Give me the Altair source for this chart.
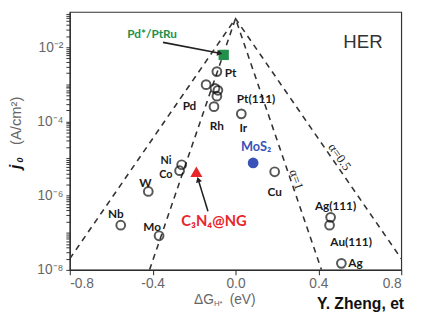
import altair as alt
import pandas as pd

# ---------------- data ----------------
metal_names = ["Pt", "m1", "m2", "m3", "m4", "Rh", "Ir", "Ni", "Co", "W", "Mo", "Nb",
               "Cu", "Ag(111)", "Au(111)", "Ag"]
metal_dG = [-0.090, -0.142, -0.099, -0.085, -0.090, -0.104, 0.028, -0.260, -0.270,
            -0.421, -0.369, -0.554, 0.189, 0.459, 0.454, 0.511]
metal_j0 = [2.2e-3, 9.8e-4, 7.8e-4, 6.9e-4, 4.8e-4, 2.5e-4, 1.6e-4, 6.8e-6, 4.7e-6,
            1.3e-6, 8.3e-8, 1.6e-7, 4.4e-6, 2.6e-7, 1.6e-7, 1.5e-8]

mos2_dG, mos2_j0 = [0.085], [7.6e-6]
ptru_dG, ptru_j0 = [-0.057], [6.2e-3]
c3n4_dG, c3n4_j0 = [-0.189], [4.4e-6]

outer_dG = [-0.8, 0.0, 0.8]
outer_j0 = [2.0e-8, 5.9e-2, 2.0e-8]
inner_dG = [-0.415, 0.0, 0.415]
inner_j0 = [1.0e-8, 5.9e-2, 1.0e-8]

# labels: text, anchor point, pixel offset dx, dy
label_text = ["Pt", "Pd", "Rh", "Pt(111)", "Ir", "MoS\u2082", "Ni", "Co", "W", "Mo", "Nb",
              "Cu", "Ag(111)", "Au(111)", "Ag", "Pd*/PtRu", "C\u2083N\u2084@NG"]
label_anchor = ["Pt", "Rh", "Rh", "Ir", "Ir", "MoS2", "Ni", "Co", "W", "Mo", "Nb",
                "Cu", "Ag(111)", "Au(111)", "Ag", "PdPtRu", "C3N4"]
label_dx = [8, -25, 3, 15, 2, 3, -16, -14, -3, -7, -5, 0, 5, 22, 7, -73, 18]
label_dy = [1, -1, 20, -15, 14, -16, -4, 4, -9, -9, -11, 21, -11, 17, 0, -21, 50]

arrow_from_dG = [-0.350, -0.133]
arrow_from_j0 = [1.35e-2, 3.8e-7]
arrow_to_dG = [-0.076, -0.180]
arrow_to_j0 = [6.9e-3, 2.7e-6]

x_ticks = [-0.8, -0.4, 0.0, 0.4, 0.8]
y_ticks = [m * 10.0 ** k for k in range(-8, -1) for m in range(1, 10)]

# ---------------- chart ----------------
W, H = 338, 263
xs = alt.Scale(domain=[-0.8, 0.8], nice=False, zero=False)
ys = alt.Scale(type="log", domain=[1e-8, 0.0891], nice=False)

anchors = {n: (g, j) for n, g, j in zip(metal_names, metal_dG, metal_j0)}
anchors["MoS2"] = (mos2_dG[0], mos2_j0[0])
anchors["PdPtRu"] = (ptru_dG[0], ptru_j0[0])
anchors["C3N4"] = (c3n4_dG[0], c3n4_j0[0])

X = alt.X("dG:Q", scale=xs,
          axis=alt.Axis(values=x_ticks, title=None, grid=False,
                        labelExpr="replace(format(datum.value, '.1f'), '\u2212', '-')",
                        labelFont="Liberation Sans", labelFontSize=14, labelColor="#666",
                        tickSize=5, tickColor="#222", domainColor="#222",
                        labelPadding=2))
Y = alt.Y("j0:Q", scale=ys,
          axis=alt.Axis(values=y_ticks, title=None, grid=False,
                        labelExpr=("(abs(log(datum.value)/LN10+2)<0.01)?'10\u207b\u00b2':"
                                   "(abs(log(datum.value)/LN10+4)<0.01)?'10\u207b\u2074':"
                                   "(abs(log(datum.value)/LN10+6)<0.01)?'10\u207b\u2076':"
                                   "(abs(log(datum.value)/LN10+8)<0.01)?'10\u207b\u2078':''"),
                        labelOverlap=False, labelFont="Liberation Sans", labelFontSize=14,
                        labelColor="#666", tickSize=4, tickColor="#333",
                        domainColor="#222", labelPadding=3))

lines_df = pd.DataFrame({
    "dG": outer_dG + inner_dG,
    "j0": outer_j0 + inner_j0,
    "curve": ["outer"] * len(outer_dG) + ["inner"] * len(inner_dG),
    "o": list(range(len(outer_dG))) + list(range(len(inner_dG))),
})
lines = alt.Chart(lines_df).mark_line(
    strokeDash=[6, 5], color="#333", strokeWidth=1.6, clip=True
).encode(x=X, y=Y, detail="curve:N", order="o:Q")

metals = alt.Chart(pd.DataFrame({"dG": metal_dG, "j0": metal_j0, "n": metal_names})).mark_point(
    shape="circle", filled=False, color="#111", size=80, strokeWidth=2
).encode(x=X, y=Y)

mos2 = alt.Chart(pd.DataFrame({"dG": mos2_dG, "j0": mos2_j0})).mark_point(
    shape="circle", filled=True, color="#3a52b8", size=120, opacity=1
).encode(x=X, y=Y)
ptru = alt.Chart(pd.DataFrame({"dG": ptru_dG, "j0": ptru_j0})).mark_point(
    shape="square", filled=True, color="#21904a", size=110, opacity=1
).encode(x=X, y=Y)
c3n4 = alt.Chart(pd.DataFrame({"dG": c3n4_dG, "j0": c3n4_j0})).mark_point(
    shape="triangle-up", filled=True, color="#e8262a", size=150, opacity=1
).encode(x=X, y=Y)

arr_df = pd.DataFrame({"dG": arrow_from_dG, "j0": arrow_from_j0,
                       "dG2": arrow_to_dG, "j02": arrow_to_j0})
arrows = alt.Chart(arr_df).mark_rule(color="#222", strokeWidth=1.6).encode(
    x=X, y=Y, x2="dG2:Q", y2="j02:Q")
heads = alt.layer(
    alt.Chart(pd.DataFrame({"dG": [arrow_to_dG[0]], "j0": [arrow_to_j0[0]]})).mark_point(
        shape="triangle-right", filled=True, color="#222", size=40, angle=11, opacity=1
    ).encode(x=X, y=Y),
    alt.Chart(pd.DataFrame({"dG": [arrow_to_dG[1]], "j0": [arrow_to_j0[1]]})).mark_point(
        shape="triangle-up", filled=True, color="#222", size=40, angle=343, opacity=1
    ).encode(x=X, y=Y),
)

label_layers = []
for t, a, dx, dy in zip(label_text, label_anchor, label_dx, label_dy):
    g, j = anchors[a]
    colour, size, font = "#1a1a1a", 12, "Lato"
    if t.startswith("MoS"):
        colour, size = "#3a52b8", 13
    elif t.startswith("Pd*"):
        colour = "#21904a"
    elif t.startswith("C\u2083"):
        colour, size = "#e8262a", 15
    elif t in ("Ni", "Co"):
        size = 11
    align = "left" if t in ("Pt", "Ag") else "center"
    label_layers.append(
        alt.Chart(pd.DataFrame({"dG": [g], "j0": [j]})).mark_text(
            text=t, dx=dx, dy=dy, align=align, baseline="middle",
            font=font, fontWeight="bold", fontSize=size, color=colour
        ).encode(x=X, y=Y)
    )

alpha_df = pd.DataFrame({"dG": [0.502, 0.293], "j0": [1.1e-5, 2.7e-6],
                         "t": ["\u03b1=0.5", "\u03b1=1"]})
alpha1 = alt.Chart(alpha_df.iloc[[0]]).mark_text(
    angle=55, font="Liberation Serif", fontSize=13, color="#222", align="center",
    baseline="middle").encode(x=X, y=Y, text="t:N")
alpha2 = alt.Chart(alpha_df.iloc[[1]]).mark_text(
    angle=71, font="Liberation Serif", fontSize=13, color="#222", align="center",
    baseline="middle").encode(x=X, y=Y, text="t:N")

one = pd.DataFrame({"a": [0]})


def txt(text, x, y, **kw):
    return alt.Chart(one).mark_text(text=text, **kw).encode(x=alt.value(x), y=alt.value(y))


annots = [
    txt("HER", 299, 31, font="Liberation Sans", fontSize=19, color="#333", align="center",
        baseline="middle"),
    txt("\u0394G", 147, 294, font="Liberation Sans", fontSize=14, color="#666", align="right",
        baseline="middle"),
    txt("H*", 147, 298, font="Liberation Sans", fontSize=8, color="#666", align="left",
        baseline="middle"),
    txt("(eV)", 163, 294, font="Liberation Sans", fontSize=14, color="#666", align="left",
        baseline="middle"),
    txt("Y. Zheng, et", 252, 298, font="Liberation Sans", fontSize=16, fontWeight="bold",
        color="#111", align="left", baseline="middle"),
    txt("j", -55, 158, font="Liberation Sans", fontSize=16, fontWeight="bold",
        fontStyle="italic", color="#111", angle=270, align="center", baseline="middle"),
    txt("0", -51, 151, font="Liberation Sans", fontSize=9, fontWeight="bold",
        fontStyle="italic", color="#111", angle=270, align="center", baseline="middle"),
    txt("(A/cm\u00b2)", -55, 111, font="Liberation Sans", fontSize=15, color="#666",
        angle=270, align="center", baseline="middle"),
]

chart = alt.layer(
    lines, metals, mos2, ptru, c3n4, arrows, heads, *label_layers, alpha1, alpha2, *annots
).properties(
    width=W, height=H,
    autosize=alt.AutoSizeParams(type="none"),
    padding={"left": 63, "top": 1, "right": 13, "bottom": 44},
).configure_view(stroke="#333", strokeWidth=1.2)

chart.save("out.html", embed_options={"renderer": "svg", "actions": False})
